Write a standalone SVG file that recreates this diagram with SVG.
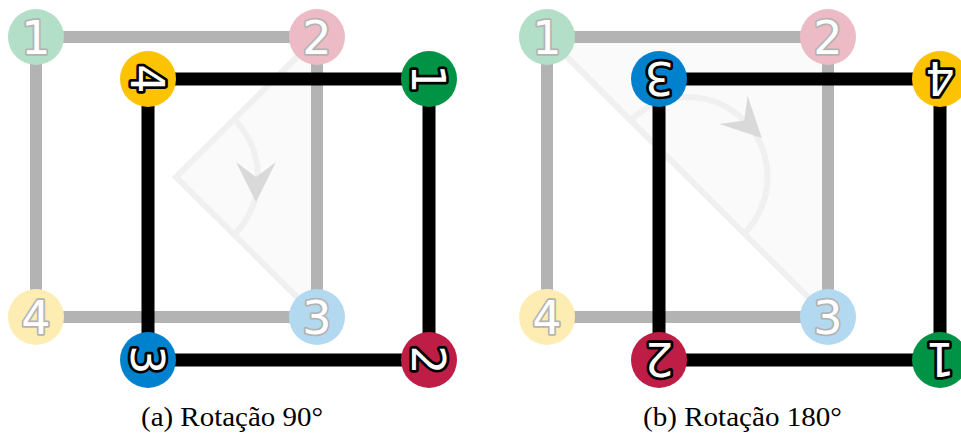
<svg xmlns="http://www.w3.org/2000/svg" xmlns:xlink="http://www.w3.org/1999/xlink" width="961" height="436" viewBox="0 0 961 436">
<style>
.wfill{fill:#fafafa;stroke:none}
.wline{fill:none;stroke:#f0f0f0;stroke-width:6;stroke-linejoin:miter}
.arrow{fill:#d9d9d9;stroke:none}
.gline{stroke:#b3b3b3;stroke-width:12;fill:none}
.bline{stroke:#000;stroke-width:13;fill:none}
.ft{font-family:"DejaVu Sans",sans-serif;font-size:46px;text-anchor:middle;fill:#fff;stroke:#b3b3b3;stroke-width:3.5;paint-order:stroke;stroke-linejoin:round}
.at{font-family:"DejaVu Sans",sans-serif;font-size:46px;text-anchor:middle;fill:#fff;stroke:#000;stroke-width:5.5;paint-order:stroke;stroke-linejoin:round}
.cap{font-family:"Liberation Serif","Times New Roman",serif;font-size:26.5px;fill:#000}
.g1{fill:#b3dec7}.p2{fill:#ecbbc6}.b3{fill:#b3d9f0}.y4{fill:#feedb3}
.G1{fill:#009245}.R2{fill:#be1e45}.B3{fill:#0081cd}.Y4{fill:#fdc300}
</style>
<defs>
<path id="ah" class="arrow" d="M25,0 L-15,-20 L0,0 L-15,20 Z"/>
</defs>

<g id="rotation-a">
<polygon class="wfill" points="176,177 317,37 317,317"/>
<polyline class="wline" points="317,37 176,177 317,317"/>
<path class="wline" d="M234,119 A82,82 0 0 1 234,235"/>
<use xlink:href="#ah" transform="translate(256,177) rotate(90)"/>
</g>
<g id="rotation-b">
<polygon class="wfill" points="547,37 828,37 828,317"/>
<line class="wline" x1="547" y1="37" x2="828" y2="317"/>
<path class="wline" d="M630.9,120.4 A80,80 0 1 1 744.1,233.6"/>
<use xlink:href="#ah" transform="translate(744.1,120.4) rotate(45)"/>
</g>

<g id="connectors">
<path class="gline" d="M36,37 H317 V317 H36 Z"/>
<path class="bline" d="M148,79 H429 V360 H148 Z"/>
<path class="gline" d="M547,37 H828 V317 H547 Z"/>
<path class="bline" d="M659,79 H940 V360 H659 Z"/>
</g>

<g id="a-faded-1"><circle class="g1" cx="36" cy="37" r="28"/><text class="ft" x="36" y="54">1</text></g>
<g id="a-faded-2"><circle class="p2" cx="317" cy="37" r="28"/><text class="ft" x="317" y="54">2</text></g>
<g id="a-faded-3"><circle class="b3" cx="317" cy="317" r="28"/><text class="ft" x="317" y="334">3</text></g>
<g id="a-faded-4"><circle class="y4" cx="36" cy="317" r="28"/><text class="ft" x="36" y="334">4</text></g>

<g id="a-node-4"><circle class="Y4" cx="148" cy="79" r="28"/><text class="at" x="148" y="96" transform="rotate(90 148 79)">4</text></g>
<g id="a-node-1"><circle class="G1" cx="429" cy="79" r="28"/><text class="at" x="429" y="96" transform="rotate(90 429 79)">1</text></g>
<g id="a-node-2"><circle class="R2" cx="429" cy="360" r="28"/><text class="at" x="429" y="377" transform="rotate(90 429 360)">2</text></g>
<g id="a-node-3"><circle class="B3" cx="148" cy="360" r="28"/><text class="at" x="148" y="377" transform="rotate(90 148 360)">3</text></g>

<g id="b-faded-1"><circle class="g1" cx="547" cy="37" r="28"/><text class="ft" x="547" y="54">1</text></g>
<g id="b-faded-2"><circle class="p2" cx="828" cy="37" r="28"/><text class="ft" x="828" y="54">2</text></g>
<g id="b-faded-3"><circle class="b3" cx="828" cy="317" r="28"/><text class="ft" x="828" y="334">3</text></g>
<g id="b-faded-4"><circle class="y4" cx="547" cy="317" r="28"/><text class="ft" x="547" y="334">4</text></g>

<g id="b-node-3"><circle class="B3" cx="659" cy="79" r="28"/><text class="at" x="659" y="96" transform="rotate(180 659 79)">3</text></g>
<g id="b-node-4"><circle class="Y4" cx="940" cy="79" r="28"/><text class="at" x="940" y="96" transform="rotate(180 940 79)">4</text></g>
<g id="b-node-1"><circle class="G1" cx="940" cy="360" r="28"/><text class="at" x="940" y="377" transform="rotate(180 940 360)">1</text></g>
<g id="b-node-2"><circle class="R2" cx="659" cy="360" r="28"/><text class="at" x="659" y="377" transform="rotate(180 659 360)">2</text></g>

<text id="caption-a" class="cap" x="141" y="426" textLength="182" lengthAdjust="spacingAndGlyphs">(a) Rotação 90°</text>
<text id="caption-b" class="cap" x="643" y="426" textLength="199" lengthAdjust="spacingAndGlyphs">(b) Rotação 180°</text>
</svg>
